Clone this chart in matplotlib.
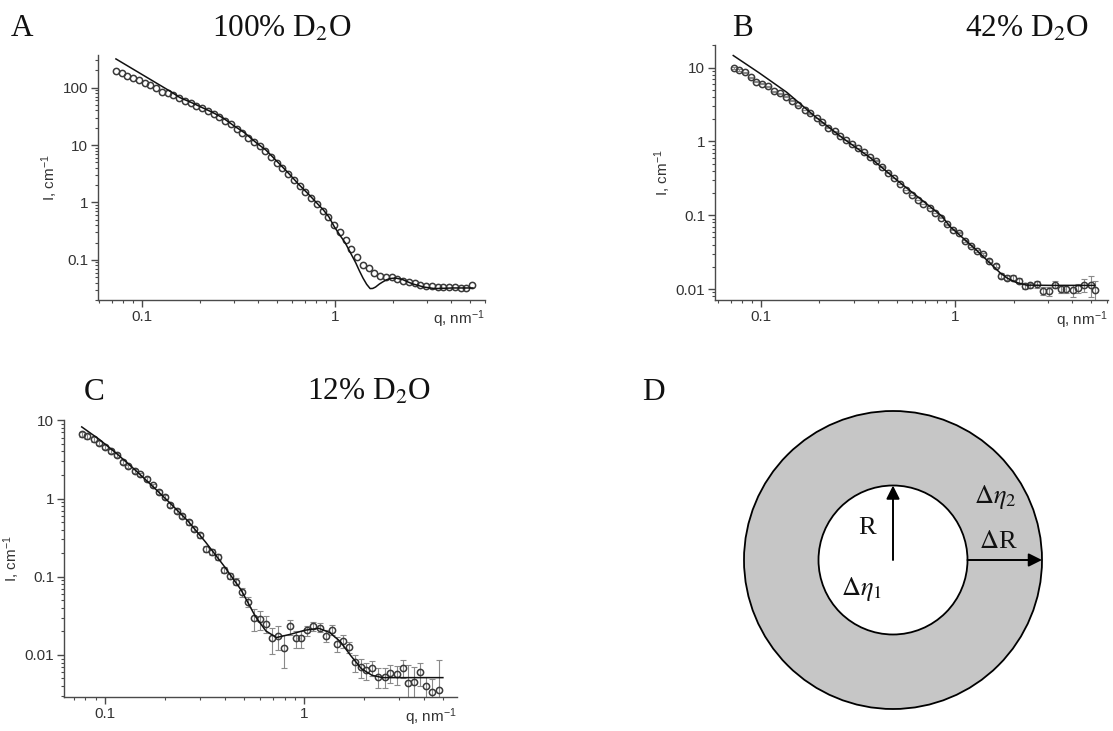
import matplotlib
matplotlib.use('Agg')
import matplotlib.pyplot as plt
from matplotlib.patches import Circle
from matplotlib.ticker import LogLocator, FuncFormatter, NullFormatter

# ---------------- data ----------------
# Panel A (100% D2O)
q_A = [0.0731, 0.0783, 0.0838, 0.0898, 0.0962, 0.1030, 0.1103, 0.1181, 0.1265, 0.1355,
       0.1451, 0.1554, 0.1665, 0.1783, 0.1909, 0.2045, 0.2190, 0.2346, 0.2512, 0.2691,
       0.2882, 0.3086, 0.3305, 0.3540, 0.3792, 0.4061, 0.4349, 0.4658, 0.4989, 0.5343,
       0.5722, 0.6129, 0.6564, 0.7030, 0.7529, 0.8064, 0.8636, 0.9249, 0.9906, 1.061,
       1.136, 1.217, 1.303, 1.396, 1.495, 1.601, 1.715, 1.837, 1.967, 2.107,
       2.256, 2.416, 2.588, 2.772, 2.969, 3.180, 3.405, 3.647, 3.906, 4.183,
       4.480, 4.798, 5.139]
I_A = [195, 181, 162, 146, 135, 120, 109, 97.5, 85.5, 80.4,
       73.9, 65.5, 58.0, 54.5, 47.8, 43.4, 38.4, 34.8, 30.8, 26.7,
       23.1, 19.0, 16.0, 13.5, 11.4, 9.64, 7.85, 6.24, 4.95, 3.93,
       3.16, 2.48, 1.95, 1.53, 1.20, 0.94, 0.72, 0.55, 0.40, 0.30,
       0.22, 0.153, 0.113, 0.083, 0.071, 0.060, 0.053, 0.051, 0.050, 0.0466,
       0.0433, 0.0413, 0.0388, 0.0370, 0.0357, 0.0344, 0.0340, 0.0336, 0.0336, 0.0332,
       0.0328, 0.0324, 0.0366]
fitq_A = [0.0731, 0.138, 0.157, 0.18, 0.203, 0.23, 0.262, 0.30, 0.340, 0.39,
          0.439, 0.50, 0.568, 0.65, 0.734, 0.80, 0.871, 0.93, 0.991, 1.06,
          1.128, 1.20, 1.282, 1.34, 1.397, 1.46, 1.522, 1.57, 1.623, 1.70,
          1.769, 1.85, 1.927, 2.056, 2.239, 2.40, 2.547, 2.895, 3.294, 4.08,
          5.19]
fitI_A = [316, 88.5, 67, 55, 45.5, 37.5, 29.8, 21.5, 16.3, 11.0,
          8.15, 5.2, 3.36, 2.05, 1.36, 1.0, 0.74, 0.56, 0.38, 0.27,
          0.2, 0.135, 0.0886, 0.064, 0.0483, 0.0375, 0.0316, 0.0318, 0.0336, 0.038,
          0.0413, 0.045, 0.0472, 0.0483, 0.0455, 0.041, 0.0379, 0.0336, 0.0316, 0.0324,
          0.0324]

# Panel B (42% D2O)
q_B = [0.0726, 0.0775, 0.0828, 0.0884, 0.0944, 0.1008, 0.1086, 0.1169, 0.1249, 0.1345,
       0.1448, 0.1559, 0.1679, 0.1793, 0.1931, 0.2062, 0.2221, 0.2391, 0.2553, 0.2749,
       0.2937, 0.3162, 0.3377, 0.3637, 0.3916, 0.4182, 0.4503, 0.4850, 0.5179, 0.5577,
       0.5957, 0.6415, 0.6851, 0.7378, 0.7880, 0.8483, 0.9061, 0.9756, 1.042, 1.122,
       1.208, 1.290, 1.389, 1.496, 1.611, 1.721, 1.838, 1.979, 2.131, 2.276,
       2.430, 2.618, 2.818, 3.035, 3.268, 3.491, 3.728, 4.015, 4.287, 4.617,
       4.971, 5.224]
I_B = [9.8, 9.3, 8.6, 7.4, 6.4, 6.0, 5.6, 4.8, 4.5, 4.0,
       3.57, 3.10, 2.65, 2.41, 2.07, 1.82, 1.54, 1.37, 1.18, 1.04,
       0.918, 0.814, 0.714, 0.615, 0.550, 0.456, 0.378, 0.319, 0.265, 0.219,
       0.187, 0.160, 0.141, 0.125, 0.107, 0.0927, 0.0755, 0.0638, 0.0581, 0.0447,
       0.0381, 0.0331, 0.0296, 0.0243, 0.0207, 0.0152, 0.0143, 0.0143, 0.0130, 0.0111,
       0.0112, 0.0116, 0.00946, 0.00937, 0.0115, 0.0100, 0.0100, 0.00964, 0.0103, 0.0113,
       0.0113, 0.0098]
err_B = [0.3, 0.25, 0.2, 0.15, 0.12, 0.1, 0.1, 0.08, 0.07, 0.06,
         0.05, 0.04, 0.03, 0.03, 0.02, 0.02, 0.015, 0.012, 0.01, 0.008,
         0.007, 0.006, 0.005, 0.004, 0.004, 0.003, 0.003, 0.002, 0.002, 0.002,
         0.0015, 0.0015, 0.0012, 0.001, 0.001, 0.001, 0.001, 0.001, 0.001, 0.001,
         0.001, 0.001, 0.001, 0.001, 0.001, 0.0012, 0.0012, 0.0012, 0.001, 0.001,
         0.001, 0.0012, 0.0012, 0.0013, 0.0013, 0.0012, 0.0013, 0.0018, 0.0015, 0.0022,
         0.0035, 0.003]
fitq_B = [0.0720, 0.098, 0.136, 0.189, 0.263, 0.365, 0.507, 0.705, 0.849, 0.940,
          1.254, 1.706, 1.853, 2.053, 2.323, 3.098, 5.22]
fitI_B = [14.55, 8.45, 4.60, 2.19, 1.11, 0.60, 0.29, 0.145, 0.098, 0.070,
          0.0357, 0.0164, 0.0140, 0.0123, 0.0113, 0.0112, 0.0112]

# Panel C (12% D2O)
q_C = [0.0766, 0.0818, 0.0881, 0.0940, 0.1004, 0.1072, 0.1154, 0.1232, 0.1315, 0.1416,
       0.1512, 0.1627, 0.1737, 0.1869, 0.1996, 0.2131, 0.2294, 0.2449, 0.2636, 0.2814,
       0.3004, 0.3208, 0.3452, 0.3686, 0.3968, 0.4236, 0.4560, 0.4908, 0.5240, 0.5596,
       0.6023, 0.6431, 0.6866, 0.7390, 0.7889, 0.8492, 0.9066, 0.9678, 1.033, 1.112,
       1.197, 1.289, 1.376, 1.469, 1.568, 1.688, 1.803, 1.924, 2.054, 2.193,
       2.360, 2.541, 2.713, 2.920, 3.144, 3.328, 3.553, 3.825, 4.083, 4.395,
       4.732]
I_C = [6.65, 6.28, 5.70, 5.17, 4.61, 4.02, 3.58, 2.95, 2.58, 2.25,
       2.04, 1.78, 1.47, 1.23, 1.06, 0.837, 0.690, 0.602, 0.497, 0.409,
       0.337, 0.229, 0.208, 0.178, 0.123, 0.103, 0.0868, 0.0637, 0.0476, 0.0293,
       0.0288, 0.0251, 0.0164, 0.0177, 0.0123, 0.0232, 0.0164, 0.0164, 0.0207, 0.0232,
       0.0224, 0.0177, 0.0211, 0.0138, 0.0152, 0.0125, 0.00801, 0.00700, 0.00635, 0.00686,
       0.00524, 0.00524, 0.00588, 0.00566, 0.00686, 0.00439, 0.00457, 0.00598, 0.00399, 0.00338,
       0.00355]
err_C = [0.5, 0.45, 0.35, 0.3, 0.25, 0.22, 0.2, 0.16, 0.14, 0.12,
         0.11, 0.1, 0.08, 0.07, 0.06, 0.05, 0.045, 0.04, 0.035, 0.03,
         0.025, 0.02, 0.018, 0.016, 0.012, 0.01, 0.009, 0.008, 0.007, 0.009,
         0.008, 0.006, 0.006, 0.006, 0.0055, 0.005, 0.004, 0.004, 0.003, 0.003,
         0.003, 0.003, 0.003, 0.003, 0.003, 0.002, 0.002, 0.002, 0.0015, 0.0015,
         0.0015, 0.0015, 0.0015, 0.0015, 0.0018, 0.003, 0.0025, 0.002, 0.0012, 0.0015,
         0.005]
fitq_C = [0.0767, 0.0940, 0.1154, 0.1416, 0.1737, 0.2131, 0.2615, 0.3208, 0.3936, 0.4829,
          0.5687, 0.6431, 0.7270, 0.856, 1.008, 1.187, 1.342, 1.517, 1.715, 1.940,
          2.193, 2.479, 4.97]
fitI_C = [8.24, 5.70, 3.72, 2.34, 1.44, 0.871, 0.516, 0.277, 0.141, 0.0681,
          0.0314, 0.0203, 0.0167, 0.0184, 0.0207, 0.0219, 0.0194, 0.0149, 0.0098, 0.00667,
          0.00549, 0.00513, 0.00513]

panel_titles = ["100% D$_2$O", "42% D$_2$O", "12% D$_2$O"]
panel_letters = ["A", "B", "C", "D"]
xlabel = "q, nm$^{-1}$"
ylabel = "I, cm$^{-1}$"

# ---------------- style ----------------
plt.rcParams['font.family'] = ['Liberation Sans', 'DejaVu Sans']
plt.rcParams['mathtext.fontset'] = 'custom'
plt.rcParams['mathtext.rm'] = 'Liberation Sans'
plt.rcParams['mathtext.it'] = 'Liberation Sans:italic'
plt.rcParams['mathtext.bf'] = 'Liberation Sans:bold'

W, H = 1113, 731
fig = plt.figure(figsize=(W / 100, H / 100), dpi=100)


def rect(l, t, r, b):
    return [l / W, 1 - b / H, (r - l) / W, (b - t) / H]


AX_COL = '#4a4a4a'
TXT_COL = '#333333'
SERIF = 'Liberation Serif'


def style_axes(ax, xlim, ylim):
    ax.set_xscale('log')
    ax.set_yscale('log')
    ax.set_xlim(*xlim)
    ax.set_ylim(*ylim)
    for s in ('top', 'right'):
        ax.spines[s].set_visible(False)
    for s in ('left', 'bottom'):
        ax.spines[s].set_color(AX_COL)
        ax.spines[s].set_linewidth(1.0)
    fmt = FuncFormatter(lambda v, p: f'{v:g}')
    for axis in (ax.xaxis, ax.yaxis):
        axis.set_major_locator(LogLocator(base=10, numticks=20))
        axis.set_minor_locator(LogLocator(base=10, subs=range(2, 10), numticks=20))
        axis.set_major_formatter(fmt)
        axis.set_minor_formatter(NullFormatter())
    ax.tick_params(which='major', direction='out', length=5, width=1.0,
                   colors=AX_COL, labelcolor=TXT_COL, labelsize=11, pad=2)
    ax.tick_params(which='minor', direction='out', length=2.5, width=0.8, colors=AX_COL)
    ax.set_ylabel(ylabel, fontsize=11, color=TXT_COL, labelpad=2)
    ax.text(1.0, -0.035, xlabel, transform=ax.transAxes, ha='right', va='top',
            fontsize=11, color=TXT_COL)


mk = dict(marker='o', ms=4.5, mfc='none', mec='#3a3a3a', mew=1.1, ls='none')
fit_style = dict(color='#111111', lw=1.1, zorder=4)
err_style = dict(fmt='none', ecolor='#8a8a8a', elinewidth=0.8, capsize=2.2,
                 capthick=0.8, zorder=2)

# Panel A
axA = fig.add_axes(rect(98, 55, 485, 300))
style_axes(axA, (0.059, 6.0), (0.02, 370))
axA.plot(q_A, I_A, **mk, zorder=3)
axA.plot(fitq_A, fitI_A, **fit_style)

# Panel B
axB = fig.add_axes(rect(715, 45, 1108, 300))
style_axes(axB, (0.058, 6.1), (0.0071, 20.2))
axB.errorbar(q_B, I_B, yerr=err_B, **err_style)
axB.plot(q_B, I_B, **mk, zorder=3)
axB.plot(fitq_B, fitI_B, **fit_style)

# Panel C
axC = fig.add_axes(rect(64, 420, 457, 697))
style_axes(axC, (0.0625, 5.85), (0.0029, 10.1))
axC.errorbar(q_C, I_C, yerr=err_C, **err_style)
axC.plot(q_C, I_C, **mk, zorder=3)
axC.plot(fitq_C, fitI_C, **fit_style)


# Titles and letters
def ftext(x, y, s, size, **kw):
    fig.text(x / W, 1 - y / H, s, fontsize=size, family=SERIF, math_fontfamily='stix',
             va='center', color='#111111', **kw)


TS = 22.5
ftext(11, 29, panel_letters[0], TS, ha='left')
ftext(282, 29, panel_titles[0], TS, ha='center')
ftext(732, 29, panel_letters[1], TS, ha='left')
ftext(1027, 29, panel_titles[1], TS, ha='center')
ftext(84, 392, panel_letters[2], TS, ha='left')
ftext(369, 392, panel_titles[2], TS, ha='center')
ftext(642, 392, panel_letters[3], TS, ha='left')

# Panel D: core-shell sketch
axD = fig.add_axes([600 / W, 0, 513 / W, (H - 360) / H])
axD.set_xlim(600, 1113)
axD.set_ylim(731, 360)
axD.axis('off')
cx, cy, r_out, r_in = 893, 560, 149, 74.5
axD.add_patch(Circle((cx, cy), r_out, facecolor='#c6c6c6', edgecolor='black', lw=1.3))
axD.add_patch(Circle((cx, cy), r_in, facecolor='white', edgecolor='black', lw=1.3))
arrow = dict(arrowstyle='-|>', color='black', lw=1.4, mutation_scale=20,
             shrinkA=0, shrinkB=0)
axD.annotate('', xy=(cx, cy - r_in), xytext=(cx, cy), arrowprops=arrow)
axD.annotate('', xy=(cx + r_out, cy), xytext=(cx + r_in, cy), arrowprops=arrow)


def dtext(x, y, s, size=19):
    axD.text(x, y, s, fontsize=size, family=SERIF, math_fontfamily='stix',
             ha='center', va='center', color='#111111')


dtext(867, 528, 'R')
dtext(995, 497, r'$\Delta\eta_2$')
dtext(998, 542, r'$\Delta$R')
dtext(861, 589, r'$\Delta\eta_1$')

fig.savefig('out.png', dpi=100)
